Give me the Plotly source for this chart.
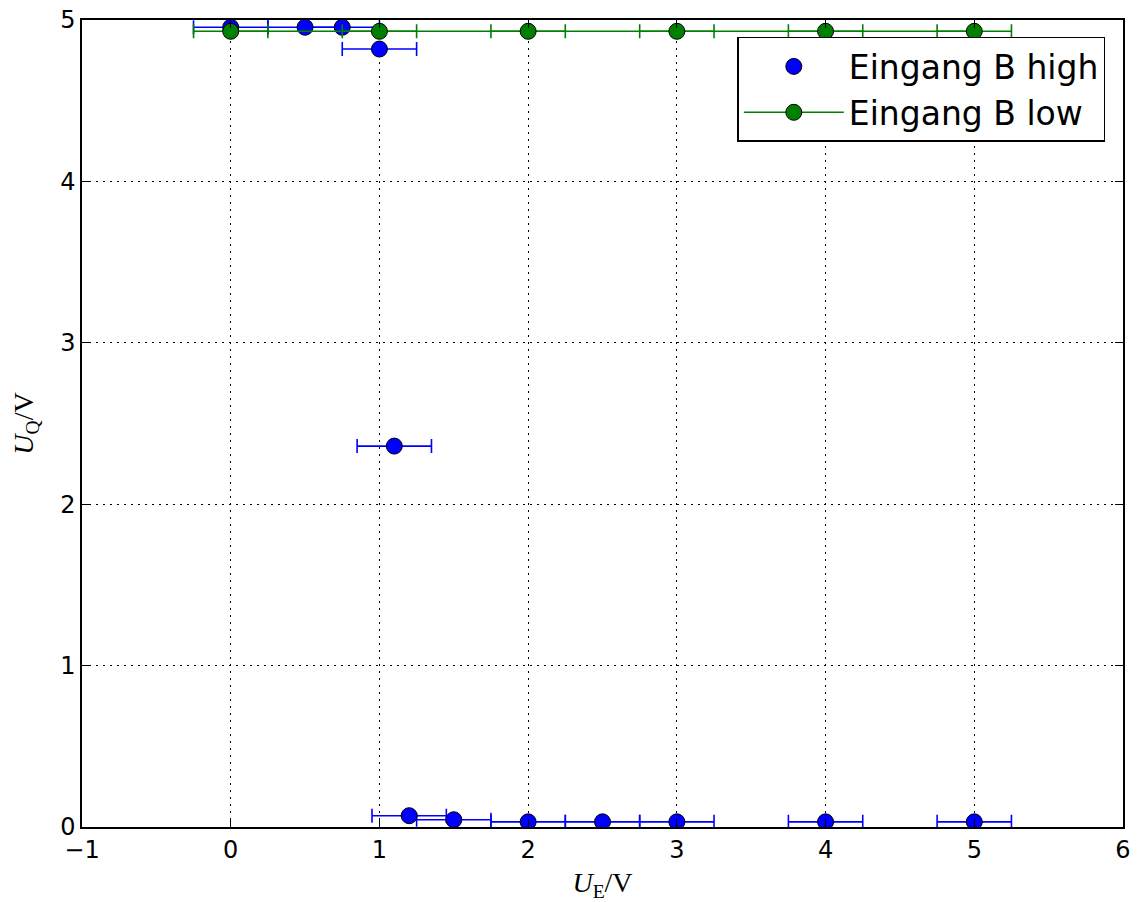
import plotly.graph_objects as go

# Data
high_x = [0, 0.5, 0.75, 1.0, 1.1, 1.2, 1.5, 2, 2.5, 3, 4, 5]
high_y = [4.955, 4.955, 4.955, 4.82, 2.36, 0.07, 0.045, 0.032, 0.032, 0.032, 0.032, 0.032]
low_x = [0, 1, 2, 3, 4, 5]
low_y = [4.93, 4.93, 4.93, 4.93, 4.93, 4.93]
x_err = 0.25

fig = go.Figure()

fig.add_trace(go.Scatter(
    x=high_x, y=high_y, mode="markers", name="Eingang B high",
    marker=dict(color="#0000ff", size=16, line=dict(color="black", width=1)),
    error_x=dict(type="constant", value=x_err, color="#0000ff", thickness=1.6, width=7),
))
fig.add_trace(go.Scatter(
    x=low_x, y=low_y, mode="lines+markers", name="Eingang B low",
    line=dict(color="#008000", width=1.6),
    marker=dict(color="#008000", size=16, line=dict(color="black", width=1)),
    error_x=dict(type="constant", value=x_err, color="#008000", thickness=1.6, width=7),
))

axis_common = dict(
    showline=True, linecolor="black", linewidth=1.5, mirror="allticks",
    ticks="inside", ticklen=8, tickwidth=1, tickcolor="black",
    showgrid=True, gridcolor="black", gridwidth=1, griddash="2px,5px",
    zeroline=False, automargin=False, ticklabeloverflow="allow",
    tickfont=dict(family="DejaVu Sans", size=24, color="black"),
)

fig.update_xaxes(range=[-1, 6], dtick=1, tick0=0,
                 title=dict(text="<i>U</i><sub>E</sub>/V",
                            font=dict(family="Liberation Serif", size=28, color="black"),
                            standoff=10),
                 **axis_common)
fig.update_yaxes(range=[0, 5], dtick=1, tick0=0,
                 title=dict(text="<i>U</i><sub>Q</sub>/V",
                            font=dict(family="Liberation Serif", size=28, color="black"),
                            standoff=20),
                 **axis_common)

fig.update_layout(
    width=1136, height=894,
    margin=dict(l=74, r=21, t=12, b=75),
    plot_bgcolor="white", paper_bgcolor="white",
    legend=dict(x=0.983, y=0.979, xanchor="right", yanchor="top",
                bgcolor="white", bordercolor="black", borderwidth=1.5,
                itemwidth=100,
                font=dict(family="DejaVu Sans", size=33, color="black")),
    showlegend=True,
)

fig.write_html("out.html")
